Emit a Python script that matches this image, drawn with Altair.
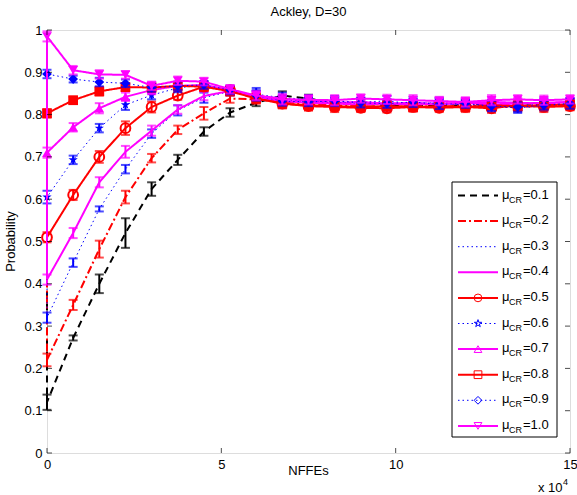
import altair as alt
import pandas as pd

# ---------------- data ----------------
x_vals = [0, 0.75, 1.5, 2.25, 3.0, 3.75, 4.5, 5.25, 6.0, 6.75, 7.5, 8.25,
          9.0, 9.75, 10.5, 11.25, 12.0, 12.75, 13.5, 14.25, 15.0]
series_names = ["0.1", "0.2", "0.3", "0.4", "0.5", "0.6", "0.7", "0.8", "0.9", "1.0"]
start_value = 0.41  # value at FEs = 0, shared by all runs

p01 = [0.120, 0.272, 0.400, 0.520, 0.624, 0.693, 0.760, 0.805, 0.828, 0.845, 0.838, 0.828, 0.826, 0.822, 0.824, 0.820, 0.823, 0.826, 0.820, 0.824, 0.822]
p02 = [0.220, 0.350, 0.482, 0.605, 0.697, 0.764, 0.803, 0.838, 0.836, 0.830, 0.826, 0.822, 0.820, 0.818, 0.820, 0.818, 0.822, 0.820, 0.817, 0.822, 0.820]
p03 = [0.320, 0.450, 0.577, 0.671, 0.755, 0.810, 0.840, 0.855, 0.848, 0.840, 0.836, 0.832, 0.830, 0.832, 0.826, 0.828, 0.826, 0.824, 0.822, 0.826, 0.828]
p04 = [0.410, 0.520, 0.640, 0.712, 0.762, 0.812, 0.844, 0.856, 0.845, 0.838, 0.832, 0.828, 0.830, 0.826, 0.828, 0.825, 0.827, 0.830, 0.828, 0.826, 0.830]
p05 = [0.510, 0.610, 0.700, 0.768, 0.818, 0.845, 0.866, 0.858, 0.840, 0.826, 0.820, 0.818, 0.816, 0.815, 0.818, 0.816, 0.818, 0.815, 0.822, 0.818, 0.820]
p06 = [0.605, 0.693, 0.768, 0.823, 0.846, 0.863, 0.870, 0.858, 0.845, 0.835, 0.830, 0.828, 0.826, 0.822, 0.826, 0.828, 0.822, 0.820, 0.816, 0.820, 0.826]
p07 = [0.710, 0.770, 0.815, 0.842, 0.858, 0.868, 0.870, 0.858, 0.842, 0.832, 0.828, 0.826, 0.824, 0.826, 0.824, 0.826, 0.828, 0.824, 0.826, 0.828, 0.830]
p08 = [0.803, 0.834, 0.855, 0.865, 0.864, 0.868, 0.866, 0.855, 0.838, 0.826, 0.822, 0.820, 0.818, 0.820, 0.818, 0.820, 0.818, 0.822, 0.820, 0.822, 0.824]
p09 = [0.896, 0.884, 0.877, 0.874, 0.864, 0.868, 0.870, 0.858, 0.845, 0.832, 0.830, 0.832, 0.828, 0.826, 0.830, 0.824, 0.826, 0.820, 0.818, 0.822, 0.826]
p10 = [0.985, 0.905, 0.895, 0.894, 0.868, 0.880, 0.878, 0.860, 0.845, 0.836, 0.835, 0.834, 0.838, 0.836, 0.834, 0.832, 0.830, 0.834, 0.836, 0.834, 0.836]

e01 = [0.018, 0.006, 0.022, 0.035, 0.016, 0.012, 0.010, 0.010, 0.008, 0.010, 0.009, 0.008, 0.010, 0.009, 0.008, 0.009, 0.010, 0.008, 0.009, 0.008, 0.009]
e02 = [0.015, 0.012, 0.020, 0.015, 0.010, 0.010, 0.015, 0.010, 0.009, 0.010, 0.012, 0.009, 0.010, 0.008, 0.010, 0.009, 0.008, 0.010, 0.009, 0.008, 0.009]
e03 = [0.012, 0.010, 0.006, 0.010, 0.010, 0.012, 0.012, 0.010, 0.015, 0.012, 0.010, 0.009, 0.010, 0.012, 0.011, 0.012, 0.010, 0.011, 0.012, 0.013, 0.011]
e04 = [0.012, 0.012, 0.012, 0.014, 0.012, 0.010, 0.010, 0.010, 0.010, 0.009, 0.012, 0.010, 0.011, 0.010, 0.009, 0.010, 0.012, 0.010, 0.011, 0.010, 0.010]
e05 = [0.012, 0.012, 0.014, 0.016, 0.013, 0.010, 0.009, 0.010, 0.010, 0.011, 0.010, 0.012, 0.010, 0.010, 0.011, 0.010, 0.009, 0.011, 0.010, 0.012, 0.010]
e06 = [0.015, 0.010, 0.010, 0.012, 0.010, 0.010, 0.009, 0.010, 0.012, 0.010, 0.011, 0.012, 0.010, 0.012, 0.010, 0.011, 0.012, 0.010, 0.012, 0.010, 0.011]
e07 = [0.012, 0.010, 0.012, 0.010, 0.010, 0.009, 0.009, 0.010, 0.010, 0.012, 0.010, 0.011, 0.010, 0.009, 0.010, 0.012, 0.010, 0.011, 0.010, 0.010, 0.009]
e08 = [0.010, 0.008, 0.010, 0.009, 0.010, 0.009, 0.010, 0.010, 0.012, 0.011, 0.012, 0.010, 0.011, 0.012, 0.010, 0.011, 0.012, 0.010, 0.011, 0.012, 0.010]
e09 = [0.010, 0.008, 0.010, 0.009, 0.010, 0.010, 0.009, 0.010, 0.012, 0.011, 0.010, 0.012, 0.011, 0.010, 0.012, 0.011, 0.010, 0.012, 0.011, 0.010, 0.012]
e10 = [0.012, 0.010, 0.010, 0.009, 0.010, 0.010, 0.009, 0.010, 0.011, 0.012, 0.011, 0.012, 0.010, 0.011, 0.012, 0.010, 0.011, 0.012, 0.010, 0.011, 0.010]

means = [p01, p02, p03, p04, p05, p06, p07, p08, p09, p10]
errs = [e01, e02, e03, e04, e05, e06, e07, e08, e09, e10]

x_ticks = [0, 5, 10, 15]
y_ticks = [0, 0.1, 0.2, 0.3, 0.4, 0.5, 0.6, 0.7, 0.8, 0.9, 1.0]

# ---------------- styles ----------------
STAR = ("M0,-1L0.2245,-0.309L0.951,-0.309L0.363,0.118L0.588,0.809L0,0.382"
        "L-0.588,0.809L-0.363,0.118L-0.951,-0.309L-0.2245,-0.309Z")
K, R, B, M = "#000000", "#ff0000", "#0000ff", "#ff00ff"
DASH, DASHDOT, DOT, SOLID = [7, 5], [8, 3, 2, 3], [1.5, 3], [1, 0]
styles = {
    "0.1": dict(color=K, dash=DASH, w=2, shape=None),
    "0.2": dict(color=R, dash=DASHDOT, w=2, shape=None),
    "0.3": dict(color=B, dash=DOT, w=1, shape=None),
    "0.4": dict(color=M, dash=SOLID, w=2, shape=None),
    "0.5": dict(color=R, dash=SOLID, w=2, shape="circle", filled=False),
    "0.6": dict(color=B, dash=DOT, w=1, shape=STAR, filled=True),
    "0.7": dict(color=M, dash=SOLID, w=2, shape="triangle-up", filled=True),
    "0.8": dict(color=R, dash=SOLID, w=2, shape="square", filled=True),
    "0.9": dict(color=B, dash=DOT, w=1, shape="diamond", filled=True),
    "1.0": dict(color=M, dash=SOLID, w=2, shape="triangle-down", filled=True),
}

# ---------------- tables ----------------
pt_rows, ln_rows = [], []
for name, ys, es in zip(series_names, means, errs):
    ln_rows.append(dict(series=name, x=0.0, y=start_value, o=0))
    for i, (xv, yv, ev) in enumerate(zip(x_vals, ys, es)):
        pt_rows.append(dict(series=name, x=xv, y=yv, lo=yv - ev, hi=yv + ev))
        ln_rows.append(dict(series=name, x=xv, y=yv, o=i + 1))
pts = pd.DataFrame(pt_rows)
lns = pd.DataFrame(ln_rows)

W, H = 523, 423
FONT = "Liberation Sans"
FS = 13

xscale = alt.Scale(domain=[0, 15], nice=False, zero=False)
yscale = alt.Scale(domain=[0, 1], nice=False, zero=False)
xaxis = alt.Axis(values=x_ticks, ticks=False, domain=False, grid=False, title=None,
                 labelPadding=5, labelFont=FONT, labelFontSize=FS, labelColor="black",
                 labelFlush=False)
yaxis = alt.Axis(values=y_ticks, ticks=False, domain=False, grid=False, title=None,
                 labelPadding=5, labelFont=FONT, labelFontSize=FS, labelColor="black",
                 format="~g")
X = alt.X("x:Q", scale=xscale, axis=xaxis)
Y = alt.Y("y:Q", scale=yscale, axis=yaxis)
Ylo = alt.Y("lo:Q", scale=yscale, axis=yaxis)

layers = []
for name in series_names:
    st = styles[name]
    f = alt.datum.series == name
    layers.append(
        alt.Chart(lns).transform_filter(f).mark_line(
            color=st["color"], strokeDash=st["dash"], strokeWidth=st["w"]
        ).encode(x=X, y=Y, order="o:Q")
    )
    base = alt.Chart(pts).transform_filter(f)
    layers.append(base.mark_rule(color=st["color"], strokeWidth=2).encode(x=X, y=Ylo, y2="hi:Q"))
    layers.append(base.mark_tick(color=st["color"], orient="horizontal", size=9, thickness=2).encode(x=X, y=Ylo))
    layers.append(base.mark_tick(color=st["color"], orient="horizontal", size=9, thickness=2).encode(
        x=X, y=alt.Y("hi:Q", scale=yscale, axis=yaxis)))
    if st["shape"]:
        layers.append(base.mark_point(
            shape=st["shape"], color=st["color"], filled=st["filled"], size=95,
            strokeWidth=2, opacity=1
        ).encode(x=X, y=Y))

# inside ticks on all four sides
xt = pd.DataFrame({"x": x_ticks})
yt = pd.DataFrame({"y": y_ticks})
layers.append(alt.Chart(xt).mark_tick(orient="vertical", size=5, thickness=1, color="black", yOffset=-2.5)
              .encode(x=X, y=alt.value(H)))
layers.append(alt.Chart(xt).mark_tick(orient="vertical", size=5, thickness=1, color="black", yOffset=2.5)
              .encode(x=X, y=alt.value(0)))
layers.append(alt.Chart(yt).mark_tick(orient="horizontal", size=5, thickness=1, color="black", xOffset=2.5)
              .encode(y=Y, x=alt.value(0)))
layers.append(alt.Chart(yt).mark_tick(orient="horizontal", size=5, thickness=1, color="black", xOffset=-2.5)
              .encode(y=Y, x=alt.value(W)))

one = pd.DataFrame({"a": [0]})

def txt(s, x, y, size=FS, align="left", baseline="middle", angle=0):
    kw = dict(text=s, font=FONT, fontSize=size, align=align, baseline=baseline, color="black")
    if angle:
        kw["angle"] = angle
    return alt.Chart(one).mark_text(**kw).encode(x=alt.value(x), y=alt.value(y))

# titles
layers.append(txt("Ackley, D=30", W / 2, -18, align="center"))
layers.append(txt("Probability", -36, H / 2, align="center", angle=270))
layers.append(txt("NFFEs", W / 2, H + 18, align="center"))
layers.append(txt("x 10", 491, H + 35))
layers.append(txt("4", 516, H + 29, size=9))

# legend
LX0, LX1, LY0, LY1 = 405, 510, 152, 407
layers.append(alt.Chart(one).mark_rect(fill="white", stroke="black", strokeWidth=1).encode(
    x=alt.value(LX0), x2=alt.value(LX1), y=alt.value(LY0), y2=alt.value(LY1)))
for i, name in enumerate(series_names):
    st = styles[name]
    ry = 165.5 + i * 25.6
    layers.append(alt.Chart(one).mark_rule(color=st["color"], strokeDash=st["dash"],
                                           strokeWidth=st["w"]).encode(
        x=alt.value(411), x2=alt.value(451), y=alt.value(ry)))
    if st["shape"]:
        layers.append(alt.Chart(one).mark_point(shape=st["shape"], color=st["color"], filled=False,
                                                size=60, strokeWidth=1, opacity=1).encode(
            x=alt.value(431), y=alt.value(ry)))
    layers.append(txt("\u03bc", 455, ry - 1))
    layers.append(txt("CR", 462, ry + 4, size=9))
    layers.append(txt("=" + name, 476, ry - 1))

chart = alt.layer(*layers).properties(
    width=W, height=H,
    padding={"left": 47, "top": 30, "right": 7, "bottom": 42},
    autosize=alt.AutoSizeParams(type="none"),
).configure_view(stroke="black", strokeWidth=1).configure(background="white")

chart.save("out.html", embed_options={"renderer": "svg", "actions": False})
